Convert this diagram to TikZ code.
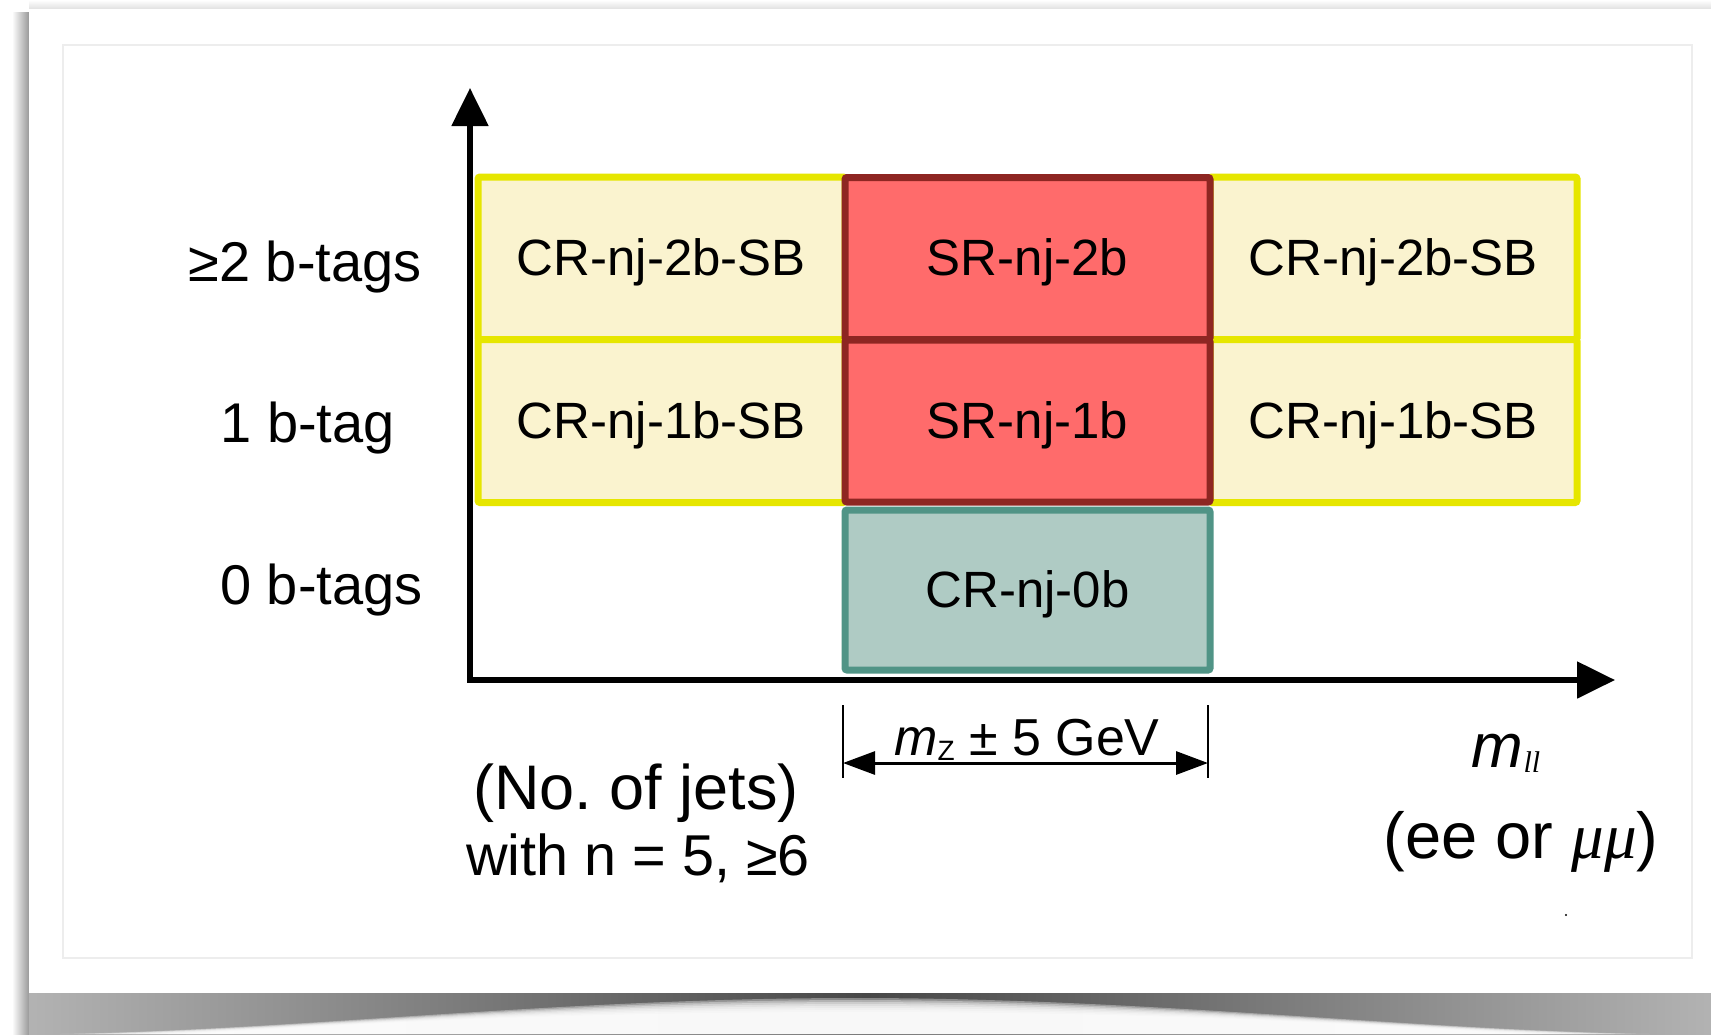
\documentclass[tikz,border=0pt]{standalone}
\usepackage{fontspec}
\setmainfont{Liberation Sans}
\newfontfamily\tms{Liberation Serif}
\usetikzlibrary{arrows.meta}
\definecolor{cellY}{RGB}{250,243,207}
\definecolor{edgeY}{RGB}{230,230,0}
\definecolor{cellR}{RGB}{255,107,107}
\definecolor{edgeR}{RGB}{142,38,34}
\definecolor{cellT}{RGB}{175,203,196}
\definecolor{edgeT}{RGB}{80,148,134}
\frenchspacing
\begin{document}
\begin{tikzpicture}[x=0.5pt,y=-0.5pt,
  cellbox/.style={line width=3.5pt, rounded corners=1pt, inner sep=0pt,
    font=\fontsize{25.5}{30}\selectfont, text height=17pt, text depth=0pt},
  sideband/.style={cellbox, draw=edgeY, fill=cellY, minimum width=183.5pt, minimum height=81.5pt},
  signal/.style={cellbox, draw=edgeR, fill=cellR, minimum width=182.5pt, minimum height=81pt},
  zeroband/.style={cellbox, draw=edgeT, fill=cellT, minimum width=182.5pt, minimum height=80pt},
  rowlabel/.style={font=\fontsize{28}{33}\selectfont, inner sep=0pt},
  axislabel/.style={anchor=base, inner sep=0pt},
  axisline/.style={line width=2.6pt, line cap=rect, -{Triangle[length=19pt,width=18pt]}},
  dimline/.style={line width=1.5pt, {Triangle[length=16pt,width=11.5pt]}-{Triangle[length=16pt,width=11.5pt]}},
  dimtick/.style={line width=1.3pt},
]
% page, card and its curled shadow
\useasboundingbox (0,0) rectangle (1711,1034);
\fill[white] (0,0) rectangle (1711,1034);
\shade[top color=white, bottom color=black!12] (29,0) rectangle (1711,9);
\shade[left color=white, right color=black!40] (12,12) rectangle (29,1034);
\shade[left color=black!30, right color=black!30, middle color=black!72] (29,993) rectangle (1711,1034);
\foreach \i in {0,...,7}{
  \fill[white, opacity=0.35]
    ({60+18*\i},1034) .. controls ({300+10*\i},{1030-\i}) and (560,{998+2*\i}) .. (855,{998+2*\i})
    .. controls (1150,{998+2*\i}) and ({1410-10*\i},{1030-\i}) .. ({1650-18*\i},1034) -- cycle;
}
\fill[white] (29,9) rectangle (1711,993);
\draw[black!7, line width=0.6pt] (63,45) rectangle (1692,958);

% cells
\node[sideband] (sbL2) at (661.5,258.5) {CR-nj-2b-SB};
\node[sideband] (sbL1) at (661.5,421) {CR-nj-1b-SB};
\node[sideband] (sbR2) at (1393.5,258.5) {CR-nj-2b-SB};
\node[sideband] (sbR1) at (1393.5,421) {CR-nj-1b-SB};
\node[signal] (sr2) at (1027.5,258.5) {SR-nj-2b};
\node[signal] (sr1) at (1027.5,421) {SR-nj-1b};
\node[zeroband] (cr0) at (1027.5,590) {CR-nj-0b};

% axes
\coordinate (origin) at (470,680);
\coordinate (ytip) at (470,88);
\coordinate (xtip) at (1615,680);
\draw[axisline] (origin) -- (ytip);
\draw[axisline] (origin) -- (xtip);

% row labels
\node[rowlabel, anchor=base east] (lab2) at (422,281) {≥2 b-tags};
\node[rowlabel, anchor=base west] (lab1) at (220,442) {1 b-tag};
\node[rowlabel, anchor=base east] (lab0) at (423,604) {0 b-tags};

% mass window
\coordinate (dimLt) at (843,705);
\coordinate (dimLb) at (843,778);
\coordinate (dimRt) at (1208,705);
\coordinate (dimRb) at (1208,778);
\coordinate (dimL) at (843,763);
\coordinate (dimR) at (1208,763);
\draw[dimtick] (dimLt) -- (dimLb);
\draw[dimtick] (dimRt) -- (dimRb);
\draw[dimline] (dimL) -- (dimR);
\node[axislabel, font=\fontsize{26}{31}\selectfont] (window) at (1027,755)
  {\itshape m\upshape\raisebox{-2.5pt}{\fontsize{14}{16}\selectfont Z} ± 5 GeV};

% axis titles
\node[axislabel, font=\fontsize{31.5}{36}\selectfont] (jetsA) at (636,809) {(No. of jets)};
\node[axislabel, font=\fontsize{28.8}{34}\selectfont] (jetsB) at (638,875) {with n = 5, ≥6};
\node[axislabel, font=\fontsize{31}{36}\selectfont] (mll) at (1506,767)
  {\itshape m\raisebox{-2.5pt}{\tms\fontsize{15}{17}\selectfont ll}};
\node[axislabel, font=\fontsize{32.5}{38}\selectfont] (chan) at (1521,858) {(ee or {\tms\itshape μμ})};
\fill (1566,915) circle (1.2);
\end{tikzpicture}
\end{document}
